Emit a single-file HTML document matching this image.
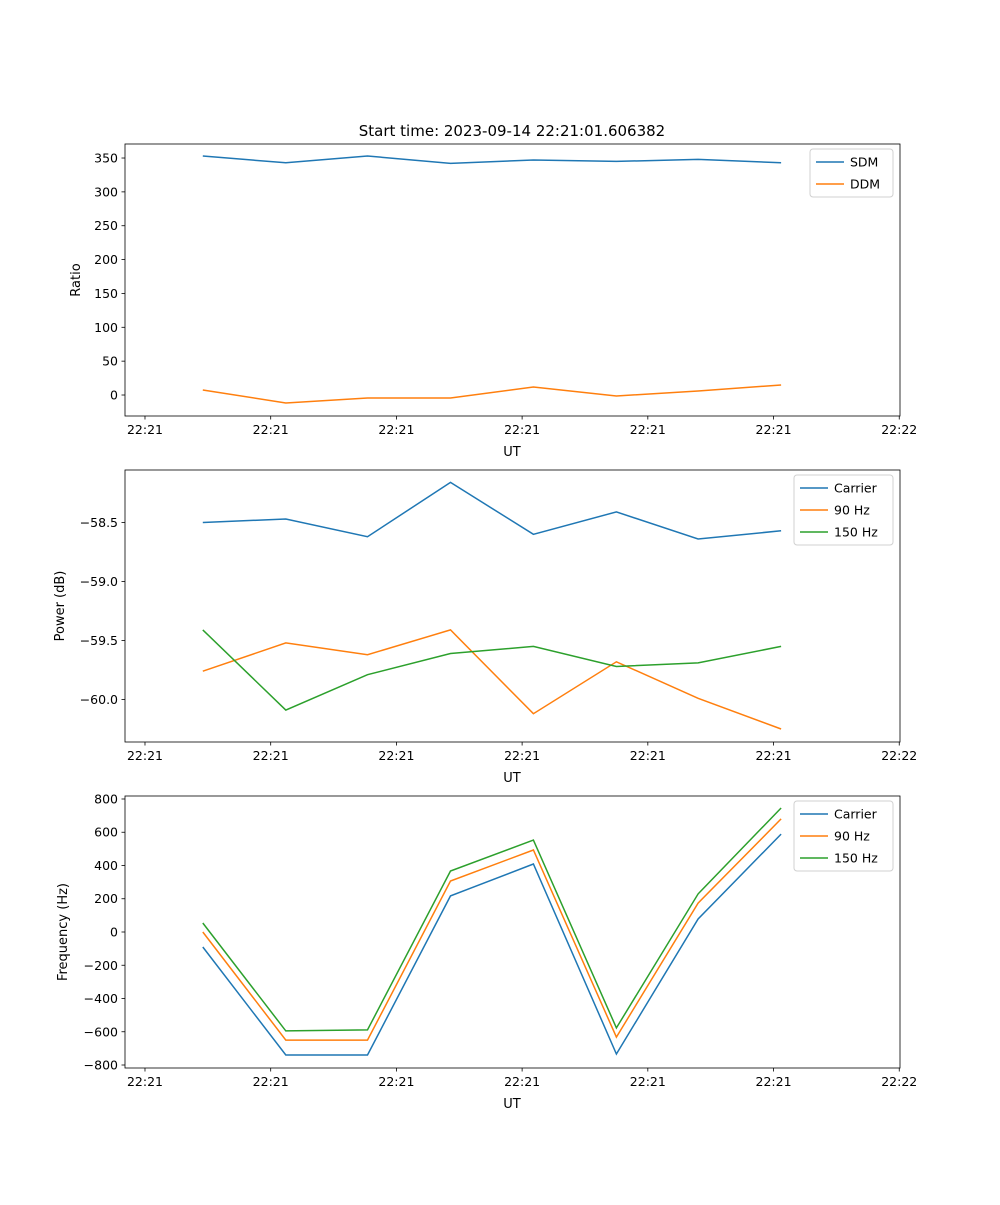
<!DOCTYPE html>
<html><head><meta charset="utf-8"><style>
body{margin:0;background:#fff}
svg{font-family:"DejaVu Sans","Liberation Sans",sans-serif}
</style></head><body>
<svg id="fig" width="1000" height="1200" xmlns="http://www.w3.org/2000/svg">
<rect width="1000" height="1200" fill="#fff"/>
<text x="512" y="136" font-size="15" text-anchor="middle">Start time: 2023-09-14 22:21:01.606382</text>
</svg>
<script>
const times = [4.6, 11.2, 17.7, 24.3, 30.9, 37.5, 44.0, 50.6];
const xTickVals = [0, 10, 20, 30, 40, 50, 60];
const xTickLabels = ["22:21","22:21","22:21","22:21","22:21","22:21","22:22"];
const sdm = [353, 343, 353, 342, 347, 345, 348, 343];
const ddm = [7.4, -11.8, -4.4, -4.4, 11.8, -1.5, 5.9, 14.8];
const powCarrier = [-58.50, -58.47, -58.62, -58.16, -58.60, -58.41, -58.64, -58.57];
const pow90 = [-59.76, -59.52, -59.62, -59.41, -60.12, -59.68, -59.99, -60.25];
const pow150 = [-59.41, -60.09, -59.79, -59.61, -59.55, -59.72, -59.69, -59.55];
const freqCarrier = [-90, -740, -740, 217, 409, -734, 78, 589];
const freq90 = [0, -650, -650, 307, 493, -632, 174, 680];
const freq150 = [54, -595, -589, 367, 553, -577, 229, 746];
const ratioTicks = [0, 50, 100, 150, 200, 250, 300, 350];
const powerTicks = [-60.0, -59.5, -59.0, -58.5];
const powerTickLabels = ["\u221260.0","\u221259.5","\u221259.0","\u221258.5"];
const freqTicks = [-800, -600, -400, -200, 0, 200, 400, 600, 800];

const NS = "http://www.w3.org/2000/svg";
const svg = document.getElementById('fig');
function mk(tag, attrs, parent){const e=document.createElementNS(NS,tag);for(const k in attrs)e.setAttribute(k,attrs[k]);(parent||svg).appendChild(e);return e;}
const L=125,R=900,X0=-1.59,X1=60.06;
const xs=v=>L+(v-X0)/(X1-X0)*(R-L);
const C=['#1f77b4','#ff7f0e','#2ca02c'];

function panel(name, top, ymin, ymax, yticks, ylabels, ylab, series, names, legend){
  const bot=top+272;
  const ys=v=>bot-(v-ymin)/(ymax-ymin)*(bot-top);
  const g=mk('g',{});
  
  
  series.forEach((s,i)=>{
    const p=mk('polyline',{points:s.map((v,j)=>xs(times[j]).toFixed(1)+','+ys(v).toFixed(1)).join(' '),fill:'none',stroke:C[i],'stroke-width':1.5},g);
    
    
  });
  const f=mk('rect',{x:L,y:top,width:R-L,height:bot-top,fill:'none',stroke:'#000','stroke-width':0.8},g);
  
  
  xTickVals.forEach((v,i)=>{
    const x=xs(v);
    mk('line',{x1:x,x2:x,y1:bot,y2:bot+3.5,stroke:'#000','stroke-width':0.8},g);
    const t=mk('text',{x:x,y:bot+18,'font-size':12.5,'text-anchor':'middle'},g);
    t.textContent=xTickLabels[i];
    
    
  });
  yticks.forEach((v,i)=>{
    const y=ys(v);
    mk('line',{x1:L-3.5,x2:L,y1:y,y2:y,stroke:'#000','stroke-width':0.8},g);
    const t=mk('text',{x:L-7,y:y+4.5,'font-size':12.5,'text-anchor':'end'},g);
    t.textContent=ylabels[i];
    
    
  });
  const xl=mk('text',{x:512,y:bot+40,'font-size':13,'text-anchor':'middle'},g);
  xl.textContent='UT';
  
  
  const yx=legend.yx;
  const yl=mk('text',{x:yx,y:top+136,'font-size':13,'text-anchor':'middle',transform:`rotate(-90 ${yx} ${top+136})`},g);
  yl.textContent=ylab;
  
  
  const lg=mk('g',{},g);
  
  
  mk('rect',{x:legend.x,y:top+5,width:893-legend.x,height:names.length*22+4,rx:3,fill:'#fff',stroke:'#ccc','stroke-width':1,opacity:0.9},lg);
  names.forEach((n,i)=>{
    const yy=top+18+i*22;
    mk('line',{x1:legend.x+6,x2:legend.x+34,y1:yy,y2:yy,stroke:C[i],'stroke-width':1.5},lg);
    const t=mk('text',{x:legend.x+40,y:yy+4.5,'font-size':12.5},lg);
    t.textContent=n;
    
    
  });
}
panel('ratio',144,-31,370.7,ratioTicks,ratioTicks.map(String),'Ratio',[sdm,ddm],['SDM','DDM'],{x:810,yx:80});
panel('power',470,-60.36,-58.055,powerTicks,powerTickLabels,'Power (dB)',[powCarrier,pow90,pow150],['Carrier','90 Hz','150 Hz'],{x:794,yx:64});
panel('frequency',796,-818,818,freqTicks,freqTicks.map(v=>v<0?'\u2212'+(-v):String(v)),'Frequency (Hz)',[freqCarrier,freq90,freq150],['Carrier','90 Hz','150 Hz'],{x:794,yx:67});
</script>
</body></html>
